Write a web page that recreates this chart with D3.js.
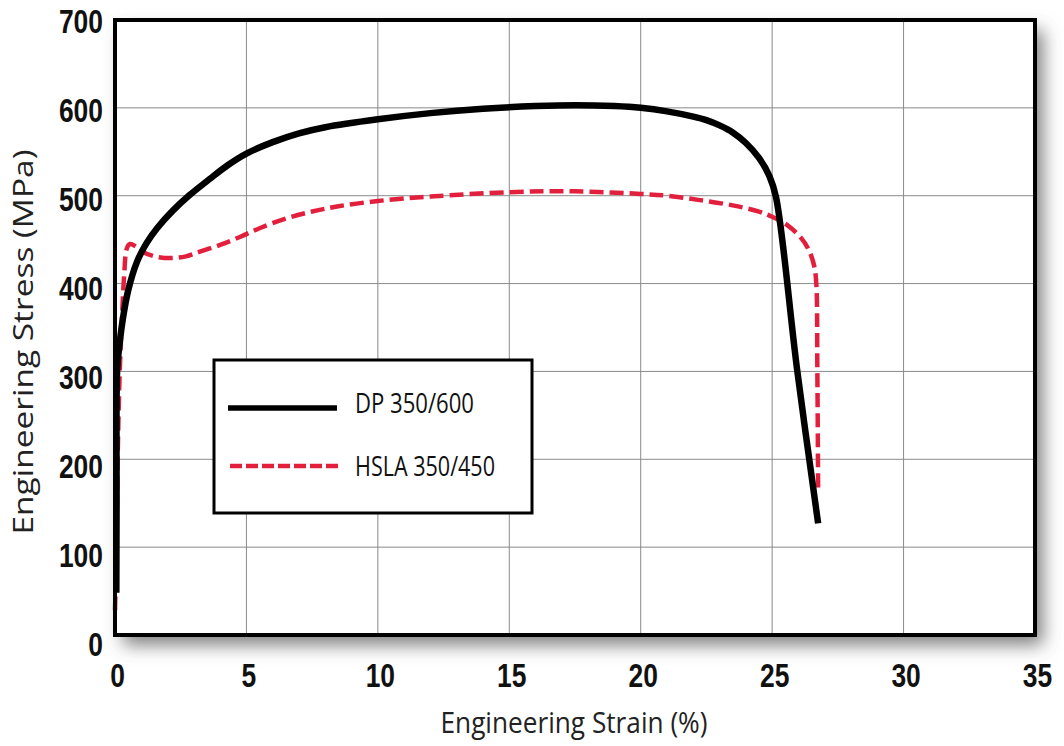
<!DOCTYPE html>
<html>

<head>
    <meta charset="utf-8">
    <script src="https://d3js.org/d3.v7.min.js"></script>
    <style>
        body {
            margin: 0;
            background: #fff;
        }
    </style>
</head>

<body>
    <div id="chart"></div>
    <script>
        // DP 350/600 (solid black)
        var dpStrain = [0.05, 0.06, 0.08, 0.15, 0.3, 0.5, 0.84, 1.2, 1.6, 2.2, 2.85, 3.6, 4.3, 5, 6, 7, 8, 10, 12, 14, 16, 17.5, 19, 20, 21, 22, 22.5, 23, 23.5, 24, 24.5, 24.9, 25.15, 25.95, 26.75];
        var dpStress = [48, 150, 300, 325, 360, 392, 425, 446, 463, 483, 501, 519, 535, 548, 561, 571, 578, 587, 594, 599, 602, 603, 602, 600, 596, 590, 586, 580, 572, 560, 543, 522, 498, 302, 127];
        // HSLA 350/450 (red dashed)
        var hslaStrain = [0, 0.05, 0.1, 0.18, 0.25, 0.35, 0.45, 0.57, 0.8, 1.06, 1.5, 2.1, 2.7, 3.2, 4, 4.75, 5.5, 6.5, 7.5, 8.5, 10, 12, 15, 17.5, 20, 21, 22.25, 23.5, 24.5, 25, 25.6, 26.1, 26.4, 26.6, 26.68, 26.72, 26.75];
        var hslaStress = [28, 90, 200, 300, 350, 410, 440, 445, 442, 436, 431, 429, 431, 436, 444, 453, 463, 474, 482, 488, 494, 499, 504, 505, 502, 500, 495, 489, 482, 476, 466, 452, 438, 420, 400, 300, 162];

        var xTicks = [0, 5, 10, 15, 20, 25, 30, 35];
        var yTicks = [0, 100, 200, 300, 400, 500, 600, 700];
        var legendNames = ["DP 350/600", "HSLA 350/450"];

        var W = 1064, H = 746;
        var svg = d3.select("#chart").append("svg")
            .attr("width", W)
            .attr("height", H);

        var x = d3.scaleLinear().domain([0, 35]).range([115, 1035]);
        var y = d3.scaleLinear().domain([0, 700]).range([635, 20]);
        // labels sit a bit lower than their grid lines in the original
        var yLab = d3.scaleLinear().domain([0, 700]).range([644, 21]);

        var defs = svg.append("defs");
        var f = defs.append("filter").attr("id", "shadow")
            .attr("x", "-5%").attr("y", "-5%").attr("width", "115%").attr("height", "120%");
        f.append("feDropShadow")
            .attr("dx", 8).attr("dy", 10)
            .attr("stdDeviation", 9)
            .attr("flood-color", "#555")
            .attr("flood-opacity", 0.75);

        // plot background with shadow
        svg.append("rect")
            .attr("x", x(0)).attr("y", y(700))
            .attr("width", x(35) - x(0)).attr("height", y(0) - y(700))
            .attr("fill", "#fff")
            .attr("filter", "url(#shadow)");

        // grid
        svg.append("g").selectAll("line")
            .data(xTicks.slice(1, -1))
            .join("line")
            .attr("x1", function (d) { return x(d); })
            .attr("x2", function (d) { return x(d); })
            .attr("y1", y(700)).attr("y2", y(0))
            .attr("stroke", "#8a8a8a").attr("stroke-width", 1);
        svg.append("g").selectAll("line")
            .data(yTicks.slice(1, -1))
            .join("line")
            .attr("y1", function (d) { return y(d); })
            .attr("y2", function (d) { return y(d); })
            .attr("x1", x(0)).attr("x2", x(35))
            .attr("stroke", "#8a8a8a").attr("stroke-width", 1);

        // curves
        var line = d3.line()
            .x(function (d) { return x(d[0]); })
            .y(function (d) { return y(d[1]); })
            .curve(d3.curveCatmullRom.alpha(0.5));

        var hsla = d3.zip(hslaStrain, hslaStress);
        var dp = d3.zip(dpStrain, dpStress);

        svg.append("path")
            .datum(hsla)
            .attr("d", line)
            .attr("fill", "none")
            .attr("stroke", "#e2203d")
            .attr("stroke-width", 4.5)
            .attr("stroke-dasharray", "14,6");

        svg.append("path")
            .datum(dp)
            .attr("d", line)
            .attr("fill", "none")
            .attr("stroke", "#000")
            .attr("stroke-width", 6.5)
            .attr("stroke-linejoin", "round");

        // frame
        svg.append("rect")
            .attr("x", x(0)).attr("y", y(700))
            .attr("width", x(35) - x(0)).attr("height", y(0) - y(700))
            .attr("fill", "none")
            .attr("stroke", "#000")
            .attr("stroke-width", 4);

        // axes (labels only)
        var xAxis = svg.append("g")
            .attr("transform", "translate(2,0)")
            .call(d3.axisBottom(x).tickValues(xTicks).tickSize(0).tickPadding(0).tickFormat(d3.format("d")));
        xAxis.select(".domain").remove();
        xAxis.selectAll("text")
            .attr("y", 687)
            .attr("dy", 0);

        var yAxis = svg.append("g")
            .call(d3.axisLeft(yLab).tickValues(yTicks).tickSize(0).tickPadding(0).tickFormat(d3.format("d")));
        yAxis.select(".domain").remove();
        yAxis.selectAll("text")
            .attr("x", 103)
            .attr("dy", "0.36em");

        svg.selectAll(".tick text")
            .attr("font-family", "'Liberation Sans', Arial, sans-serif")
            .attr("font-weight", "bold")
            .attr("font-size", 33)
            .attr("fill", "#111")
            .each(function () {
                var w = this.getComputedTextLength();
                d3.select(this)
                    .attr("textLength", w * 0.8)
                    .attr("lengthAdjust", "spacingAndGlyphs");
            });

        // axis titles
        svg.append("text")
            .attr("x", 574).attr("y", 733)
            .attr("text-anchor", "middle")
            .attr("font-family", "'Open Sans', sans-serif")
            .attr("font-size", 30)
            .attr("fill", "#222")
            .attr("textLength", 267)
            .attr("lengthAdjust", "spacingAndGlyphs")
            .text("Engineering Strain (%)");

        svg.append("text")
            .attr("transform", "translate(33,342) rotate(-90)")
            .attr("text-anchor", "middle")
            .attr("font-family", "'Open Sans', sans-serif")
            .attr("font-size", 28)
            .attr("fill", "#222")
            .attr("textLength", 385)
            .attr("lengthAdjust", "spacingAndGlyphs")
            .text("Engineering Stress (MPa)");

        // legend
        var lg = svg.append("g");
        lg.append("rect")
            .attr("x", 214).attr("y", 360)
            .attr("width", 318).attr("height", 153)
            .attr("fill", "#fff")
            .attr("stroke", "#000")
            .attr("stroke-width", 3);
        lg.append("line")
            .attr("x1", 228).attr("x2", 337)
            .attr("y1", 408).attr("y2", 408)
            .attr("stroke", "#000").attr("stroke-width", 5.5);
        lg.append("line")
            .attr("x1", 230).attr("x2", 341)
            .attr("y1", 466).attr("y2", 466)
            .attr("stroke", "#e2203d").attr("stroke-width", 4.5)
            .attr("stroke-dasharray", "12,4");
        lg.selectAll("text.lbl")
            .data(legendNames)
            .join("text")
            .attr("class", "lbl")
            .attr("x", 355)
            .attr("y", function (d, i) { return i === 0 ? 413 : 476; })
            .attr("font-family", "'Open Sans', sans-serif")
            .attr("font-size", 28)
            .attr("fill", "#111")
            .attr("textLength", function (d, i) { return i === 0 ? 119 : 140; })
            .attr("lengthAdjust", "spacingAndGlyphs")
            .text(function (d) { return d; });
    </script>
</body>

</html>
